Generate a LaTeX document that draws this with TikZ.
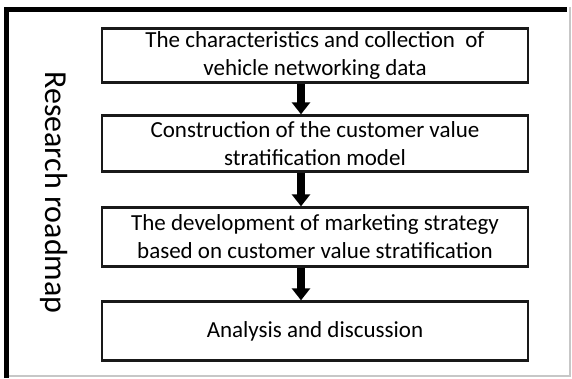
\documentclass[tikz,border=0pt]{standalone}
\usepackage{fontspec}
\setmainfont{Carlito}
\usetikzlibrary{arrows.meta}
\begin{document}
\begin{tikzpicture}[x=1pt,y=-1pt,
  stepbox/.style={draw=black!90, line width=2.4pt, minimum width=426pt,
    inner sep=0pt, align=center, font=\fontsize{23}{28}\selectfont},
  flow/.style={line width=8pt, -{Triangle[width=18pt,length=12pt]}}]
  \useasboundingbox (0,0) rectangle (572,378);
  % sunken outer frame
  \draw[black!22, line width=1.2pt] (6,376) -- (570,376) -- (570,7);
  \draw[line width=5pt] (6.5,378) -- (6.5,9.3) -- (567,9.3);
  % side caption
  \node[rotate=-90, anchor=base, font=\fontsize{32}{36}\selectfont]
    (cap) at (45,192.5) {Research roadmap};
  % stages
  \node[stepbox, minimum height=54pt] (b1) at (315,55.5)
    {The characteristics and collection~ of\\vehicle networking data};
  \node[stepbox, minimum height=56pt] (b2) at (315,143.5)
    {Construction of the customer value\\stratification model};
  \node[stepbox, minimum height=59pt] (b3) at (315,237)
    {The development of marketing strategy\\based on customer value stratification};
  \node[stepbox, minimum height=59pt] (b4) at (315,331)
    {Analysis and discussion};
  % arrows between stages
  \foreach \a/\b in {b1/b2, b2/b3, b3/b4}
    \draw[flow] ([xshift=-14pt]\a.south) -- ([xshift=-14pt]\b.north);
\end{tikzpicture}
\end{document}
